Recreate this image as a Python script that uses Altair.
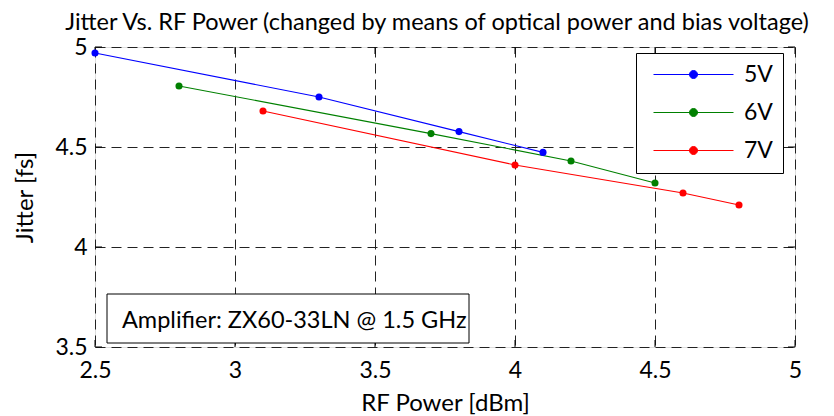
import altair as alt
import pandas as pd

series = ["5V", "6V", "7V"]
colors = ["#0000ff", "#008000", "#ff0000"]
x_5v = [2.5, 3.3, 3.8, 4.1]
y_5v = [4.97, 4.75, 4.577, 4.473]
x_6v = [2.8, 3.7, 4.2, 4.5]
y_6v = [4.805, 4.567, 4.43, 4.32]
x_7v = [3.1, 4.0, 4.6, 4.8]
y_7v = [4.68, 4.41, 4.27, 4.21]
x_ticks = [2.5, 3, 3.5, 4, 4.5, 5]
y_ticks = [3.5, 4, 4.5, 5]
note = "Amplifier: ZX60-33LN @ 1.5 GHz"

rows = []
for name, xs, ys in zip(series, [x_5v, x_6v, x_7v], [y_5v, y_6v, y_7v]):
    for i, (a, b) in enumerate(zip(xs, ys)):
        rows.append({"Voltage": name, "rf": a, "jitter": b, "order": i})
df = pd.DataFrame(rows)

FONT = "Lato"
W, H = 700, 300

xs = alt.Scale(domain=[2.5, 5], nice=False, zero=False)
ys = alt.Scale(domain=[3.5, 5], nice=False, zero=False)

legend_path = "M-0.4,0H7.6M3.2,0A0.4,0.4 0 1,0 4.0,0A0.4,0.4 0 1,0 3.2,0Z"

color = alt.Color(
    "Voltage:N",
    scale=alt.Scale(domain=series, range=colors),
    legend=alt.Legend(
        title=None, orient="none", legendX=541, legendY=6,
        strokeColor="black", fillColor="white", padding=10,
        labelFontSize=23, labelFont=FONT, labelColor="black",
        symbolType=legend_path, symbolSize=400, symbolStrokeWidth=1,
        rowPadding=14, labelOffset=75,
    ),
)

axis_common = dict(grid=True, gridDash=[10, 6], gridColor="#222222", gridWidth=1,
                   tickSize=0, domain=False, labelFont=FONT, labelColor="black",
                   titleFont=FONT, titleFontWeight="normal", titleColor="black",
                   labelFlush=False, format="~g")

base = alt.Chart(df).encode(
    x=alt.X("rf:Q", scale=xs, title="RF Power [dBm]",
            axis=alt.Axis(values=x_ticks, labelFontSize=23, labelPadding=12,
                          titleFontSize=24, titlePadding=9, **axis_common)),
    y=alt.Y("jitter:Q", scale=ys, title="Jitter [fs]",
            axis=alt.Axis(values=y_ticks, labelFontSize=23, labelPadding=8,
                          titleFontSize=24, titlePadding=17, **axis_common)),
    color=color,
    order="order:Q",
)

lines = base.mark_line(strokeWidth=1.1, point=alt.OverlayMarkDef(filled=True, size=50, opacity=1))

tx = pd.DataFrame({"v": x_ticks})
ty = pd.DataFrame({"v": y_ticks})
tick_x_bot = alt.Chart(tx).mark_rule(color="black").encode(
    x=alt.X("v:Q", scale=xs), y=alt.value(H), y2=alt.value(H - 7))
tick_x_top = alt.Chart(tx).mark_rule(color="black").encode(
    x=alt.X("v:Q", scale=xs), y=alt.value(0), y2=alt.value(7))
tick_y_left = alt.Chart(ty).mark_rule(color="black").encode(
    y=alt.Y("v:Q", scale=ys), x=alt.value(0), x2=alt.value(7))
tick_y_right = alt.Chart(ty).mark_rule(color="black").encode(
    y=alt.Y("v:Q", scale=ys), x=alt.value(W), x2=alt.value(W - 7))

nd = pd.DataFrame({"t": [note]})
note_box = alt.Chart(nd).mark_rect(fill="white", stroke="black", strokeWidth=1).encode(
    x=alt.value(12), x2=alt.value(374), y=alt.value(247), y2=alt.value(296))
note_text = alt.Chart(nd).mark_text(align="left", baseline="alphabetic", fontSize=23.5,
                                     font=FONT, color="black").encode(
    x=alt.value(27), y=alt.value(281), text="t:N")

chart = alt.layer(
    tick_x_bot, tick_x_top, tick_y_left, tick_y_right, lines, note_box, note_text
).properties(
    width=W, height=H,
    title=alt.Title("Jitter Vs. RF Power (changed by means of optical power and bias voltage)",
                    fontSize=23.5, font=FONT, fontWeight="normal", color="black",
                    anchor="middle", offset=2, dx=-8),
).configure_view(stroke="black", strokeWidth=1.5).configure(
    autosize=alt.AutoSizeParams(type="none"),
    padding={"left": 87, "top": 39, "right": 31, "bottom": 69},
    background="white",
)

chart.save("out.html", embed_options={"renderer": "svg", "actions": False})
